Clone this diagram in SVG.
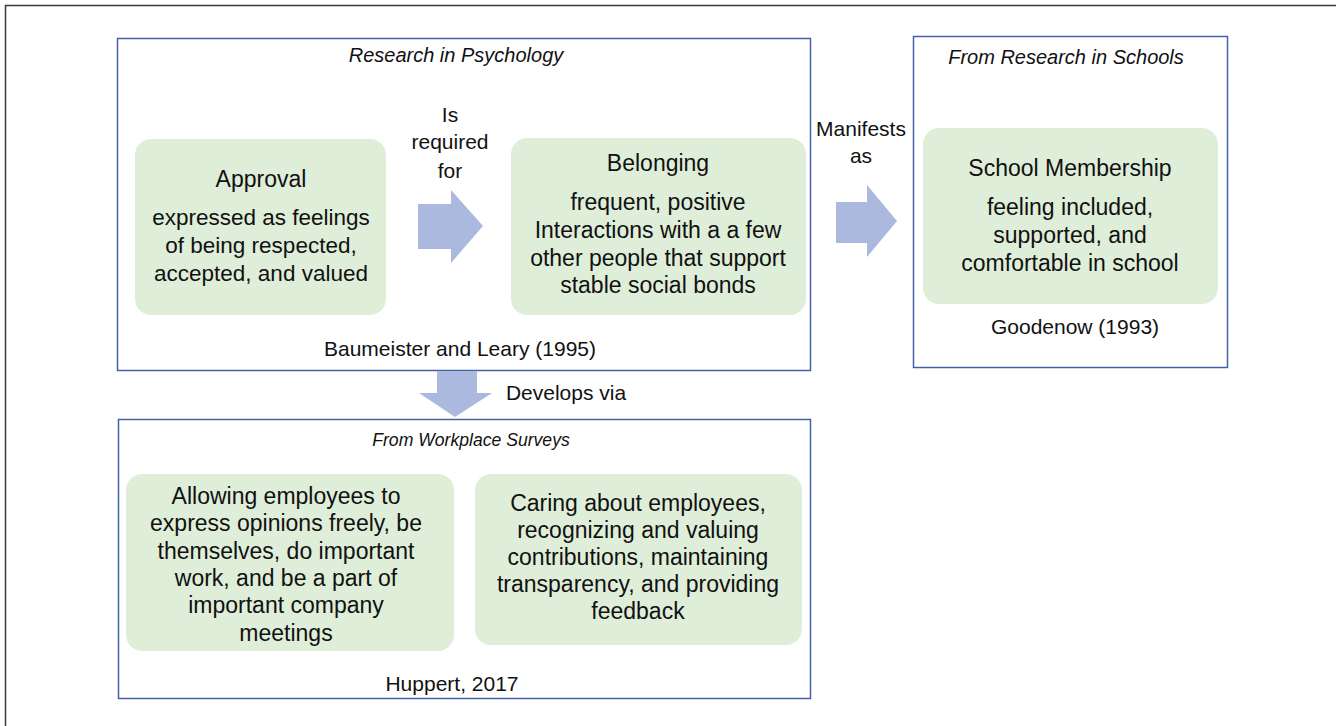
<svg xmlns="http://www.w3.org/2000/svg" width="1336" height="726" viewBox="0 0 1336 726">
  <style>
    .frame { fill: none; stroke: #3a3a3a; stroke-width: 1.5; }
    .panel { fill: #ffffff; stroke: #4361a8; stroke-width: 1.5; }
    .card { fill: #dfeed9; stroke: none; }
    .arrow { fill: #abb9de; stroke: none; }
    text { font-family: "Liberation Sans", Arial, sans-serif; fill: #111111; text-anchor: middle; }
    .head { font-size: 20px; font-style: italic; }
    .body { font-size: 23px; }
    .label { font-size: 21px; }
  </style>

  <rect width="1336" height="726" fill="#ffffff"/>
  <!-- outer frame, running off the right and bottom edges -->
  <rect class="frame" x="5.5" y="5.5" width="1340" height="740"/>

  <!-- Research in Psychology panel -->
  <g id="psychology">
    <rect class="panel" x="117.5" y="38.5" width="693" height="332"/>
    <text class="head" x="456" y="62">Research in Psychology</text>
    <text class="label" x="460" y="356">Baumeister and Leary (1995)</text>
  </g>

  <g id="approval">
    <rect class="card" x="135" y="139" width="251" height="176" rx="16"/>
    <text class="body" x="261" y="187">Approval</text>
    <text class="body" x="261" y="225" style="font-size:22.5px">expressed as feelings</text>
    <text class="body" x="261" y="253" style="font-size:22.5px">of being respected,</text>
    <text class="body" x="261" y="281" style="font-size:22.5px">accepted, and valued</text>
  </g>

  <g id="belonging">
    <rect class="card" x="511" y="138" width="295" height="177" rx="16"/>
    <text class="body" x="658" y="171">Belonging</text>
    <text class="body" x="658" y="210">frequent, positive</text>
    <text class="body" x="658" y="238">Interactions with a a few</text>
    <text class="body" x="658" y="266">other people that support</text>
    <text class="body" x="658" y="293">stable social bonds</text>
  </g>

  <!-- From Research in Schools panel -->
  <g id="schools">
    <rect class="panel" x="913.5" y="36.5" width="314" height="331"/>
    <text class="head" x="1066" y="64">From Research in Schools</text>
    <text class="label" x="1075" y="334">Goodenow (1993)</text>
  </g>

  <g id="membership">
    <rect class="card" x="923" y="128" width="295" height="176" rx="16"/>
    <text class="body" x="1070" y="176">School Membership</text>
    <text class="body" x="1070" y="215">feeling included,</text>
    <text class="body" x="1070" y="243">supported, and</text>
    <text class="body" x="1070" y="271">comfortable in school</text>
  </g>

  <!-- From Workplace Surveys panel -->
  <g id="workplace">
    <rect class="panel" x="118.5" y="419.5" width="692" height="279"/>
    <text class="head" x="471" y="446" style="font-size:17.6px">From Workplace Surveys</text>
    <text class="label" x="452" y="691">Huppert, 2017</text>
  </g>

  <g id="allowing">
    <rect class="card" x="126" y="474" width="328" height="177" rx="16"/>
    <text class="body" x="286" y="504">Allowing employees to</text>
    <text class="body" x="286" y="531">express opinions freely, be</text>
    <text class="body" x="286" y="559">themselves, do important</text>
    <text class="body" x="286" y="586">work, and be a part of</text>
    <text class="body" x="286" y="613">important company</text>
    <text class="body" x="286" y="641">meetings</text>
  </g>

  <g id="caring">
    <rect class="card" x="475" y="474" width="327" height="171" rx="16"/>
    <text class="body" x="638" y="511">Caring about employees,</text>
    <text class="body" x="638" y="538">recognizing and valuing</text>
    <text class="body" x="638" y="565">contributions, maintaining</text>
    <text class="body" x="638" y="592">transparency, and providing</text>
    <text class="body" x="638" y="619">feedback</text>
  </g>

  <!-- block arrows and their labels -->
  <g id="connectors">
    <polygon class="arrow" points="418,204 451,204 451,190 483,226 451,263 451,249 418,249"/>
    <text class="label" x="450" y="122">Is</text>
    <text class="label" x="450" y="149">required</text>
    <text class="label" x="450" y="178">for</text>

    <polygon class="arrow" points="836,202 867,202 867,185 897,221 867,257 867,243 836,243"/>
    <text class="label" x="861" y="136">Manifests</text>
    <text class="label" x="861" y="163">as</text>

    <polygon class="arrow" points="437,371 477,371 477,393 492,393 455,417 419,393 437,393"/>
    <text class="label" x="566" y="400">Develops via</text>
  </g>
</svg>
